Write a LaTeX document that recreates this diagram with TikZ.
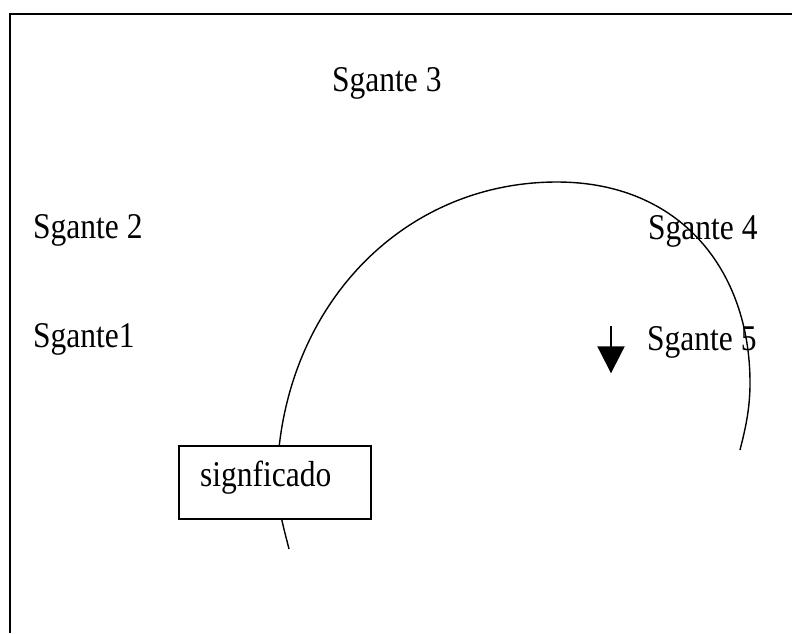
\documentclass[tikz,border=0pt]{standalone}
\usepackage{fontspec}
\setmainfont{Liberation Serif}
\usepackage{graphicx}
\usetikzlibrary{arrows.meta}

\newcommand{\tallword}[1]{\scalebox{1}[1.15]{#1}}

\tikzset{
    sgante/.style={anchor=base west,inner sep=0pt,font=\fontsize{31.5}{36}\selectfont},
    frameline/.style={line width=2pt}
}

\begin{document}
\begin{tikzpicture}[x=1pt,y=-1pt]
    \useasboundingbox (0,0) rectangle (792,633);
    \draw [frameline] (10,633) -- (10,14) -- (792,14);

    \node [sgante] (s3) at (332,91.5) {\tallword{Sgante 3}};
    \node [sgante] (s2) at (33,238) {\tallword{Sgante 2}};
    \node [sgante] (s1) at (33,347.5) {\tallword{Sgante1}};
    \node [sgante] (s4) at (648,239.5) {\tallword{Sgante 4}};
    \node [sgante] (s5) at (647,350.7) {\tallword{Sgante 5}};

    \coordinate (arcstart) at (289,549);
    \coordinate (arcleft) at (277,480);
    \coordinate (arctop) at (557,182);
    \coordinate (arcright) at (750,383);
    \coordinate (arcend) at (740,450);
    \draw [line width=1.4pt] (arcstart) .. controls (283,525) and (277,505) .. (arcleft)
        .. controls (280,310) and (400,182) .. (arctop)
        .. controls (680,182) and (750,270) .. (arcright)
        .. controls (750,410) and (745,430) .. (arcend);

    \draw [line width=2pt,fill=white] (179,446) rectangle (371,519);
    \node [sgante] (sig) at (200,486.7) {\tallword{signficado}};

    \coordinate (arrtop) at (611,326);
    \coordinate (arrtip) at (611,373.3);
    \draw [-{Triangle[width=27pt,length=27pt]},line width=2pt] (arrtop) -- (arrtip);
\end{tikzpicture}
\end{document}
